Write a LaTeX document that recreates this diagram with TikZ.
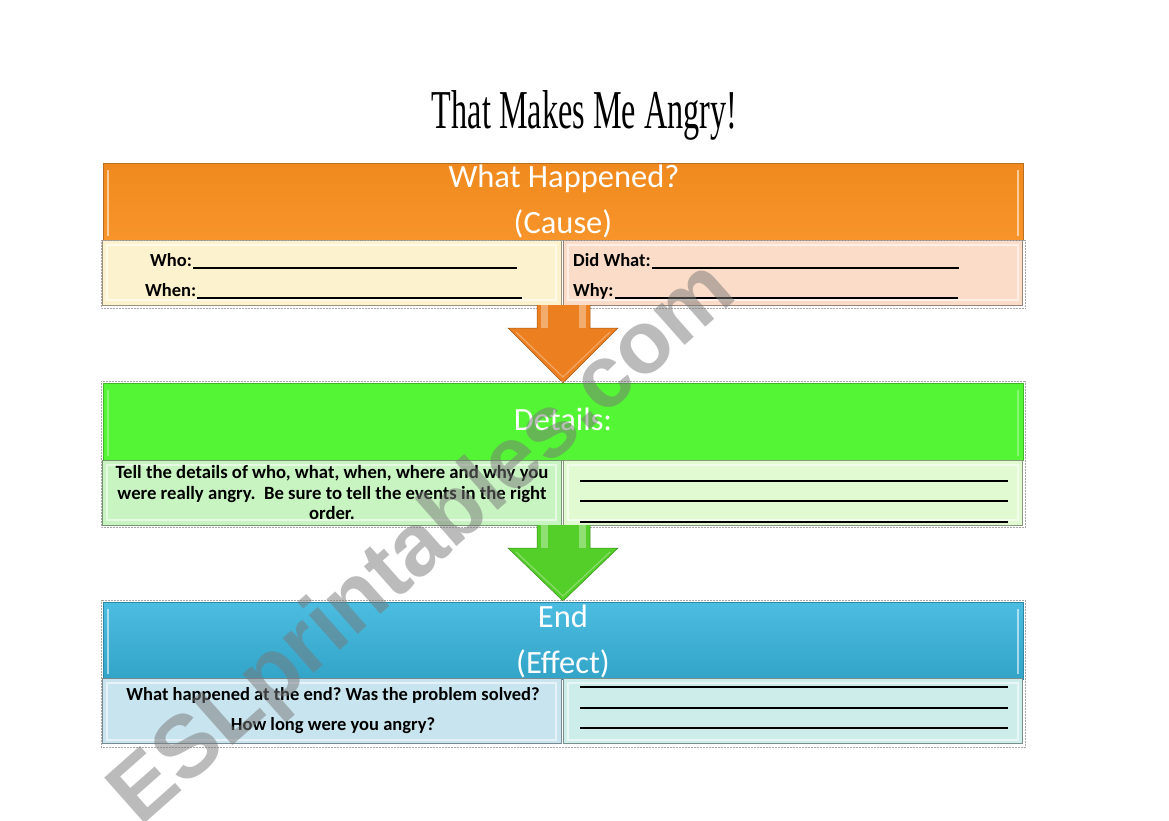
\documentclass[tikz,border=0pt]{standalone}
\usepackage{fontspec}
\setmainfont{Carlito}
\newfontfamily\titlefont{Liberation Serif}
\newfontfamily\wmfont{Liberation Sans}
\frenchspacing
\definecolor{orbar}{RGB}{247,148,42}
\definecolor{orbartop}{RGB}{240,138,30}
\definecolor{cwho}{RGB}{253,242,206}
\definecolor{cwhat}{RGB}{251,220,200}
\definecolor{grbar}{RGB}{84,245,52}
\definecolor{gleft}{RGB}{200,244,194}
\definecolor{gright}{RGB}{226,250,210}
\definecolor{blbar}{RGB}{56,182,222}
\definecolor{bleft}{RGB}{200,228,238}
\definecolor{bright}{RGB}{204,237,234}
\definecolor{orarrow}{RGB}{236,128,32}
\definecolor{grarrow}{RGB}{84,206,40}
\definecolor{wm}{RGB}{120,120,120}
\tikzset{
  bar/.style={draw=#1!75!black, line width=0.6pt, fill=#1, anchor=north west,
    minimum width=920pt, minimum height=77pt, inner sep=0pt},
  subbox/.style={draw=#1!60!black, line width=0.6pt, fill=#1, anchor=north west,
    minimum width=459pt, minimum height=65pt, inner sep=0pt},
  bartext/.style={text=white, font=\fontsize{32.5}{38}\selectfont, anchor=base, inner sep=0pt},
  lbl/.style={font=\fontsize{18.5}{22}\selectfont\bfseries, inner sep=0pt},
  uline/.style={line width=1.6pt, black},
  sel/.style={draw=gray!70, densely dotted, line width=0.5pt},
  hilite/.style={draw=white, opacity=0.55, line width=1.5pt},
}
\begin{document}
\begin{tikzpicture}[x=1pt,y=-1pt]
\useasboundingbox (0,0) rectangle (1169,821);
\fill[white] (0,0) rectangle (1169,821);

% title
\node[anchor=base, inner sep=0pt] (title) at (584.5,129)
  {\resizebox{305pt}{38pt}{\titlefont That Makes Me Angry!}};

% ---------- block 1: cause ----------
\node[bar=orbar, top color=orbartop, bottom color=orbar] (cause) at (103,163) {};
\draw[hilite] (108,170) -- (108,236) (1018,170) -- (1018,236);
\node[bartext] (t1a) at (564,187) {What Happened?};
\node[bartext] (t1b) at (563,233) {(Cause)};
\node[subbox=cwho] (who) at (102,240) {};
\node[subbox=cwhat] (what) at (563,240) {};
\draw[hilite] (107,245) rectangle (556,300);
\draw[hilite] (568,245) rectangle (1018,300);
\node[lbl, anchor=base west] (whol) at (150,266) {Who:};
\draw[uline] (whol.base east) ++(1,2) -- (517,268);
\node[lbl, anchor=base west] (whenl) at (145,296) {When:};
\draw[uline] (whenl.base east) ++(1,2) -- (522,298);
\node[lbl, anchor=base west] (didl) at (573,266) {Did What:};
\draw[uline] (didl.base east) ++(1,2) -- (959,268);
\node[lbl, anchor=base west] (whyl) at (573,296) {Why:};
\draw[uline] (whyl.base east) ++(1,2) -- (958,298);
\draw[sel] (101,240) rectangle (1025,308);

% arrow 1
\coordinate (a1) at (563,383);
\fill[orarrow] (537,305) -- (590,305) -- (590,328) -- (618,328) -- (a1) -- (508,328) -- (537,328) -- cycle;
\fill[white, opacity=0.35] (541,305) rectangle (548,328);
\fill[white, opacity=0.35] (579,305) rectangle (586,328);
\draw[orarrow!70!black, line width=0.5pt] (537,305) -- (537,328) -- (508,328) -- (a1) -- (618,328) -- (590,328) -- (590,305);
\draw[white, opacity=0.3, line width=1.2pt] (516,332) -- (563,377) -- (610,332);

% ---------- block 2: details ----------
\node[bar=grbar] (details) at (103,383) {};
\draw[hilite, opacity=0.3] (108,390) -- (108,456) (1018,390) -- (1018,456);
\node[bartext] (t2) at (563,430) {Details:};
\node[subbox=gleft] (dleft) at (102,460) {};
\node[subbox=gright] (dright) at (563,460) {};
\draw[hilite] (107,465) rectangle (556,520);
\draw[hilite] (568,465) rectangle (1018,520);
\node[lbl, align=center, font=\fontsize{18.7}{20.5}\selectfont\bfseries] (dtext) at (332,493)
  {Tell the details of who, what, when, where and why you\\
   were really angry.\ \ Be sure to tell the events in the right\\
   order.};
\draw[uline] (580,481) -- (1008,481);
\draw[uline] (580,501) -- (1008,501);
\draw[uline] (580,522) -- (1008,522);
\draw[sel] (101,381) rectangle (1025,527);

% arrow 2
\coordinate (a2) at (563,601);
\fill[grarrow] (537,525) -- (590,525) -- (590,548) -- (618,548) -- (a2) -- (508,548) -- (537,548) -- cycle;
\fill[white, opacity=0.35] (541,525) rectangle (548,548);
\fill[white, opacity=0.35] (579,525) rectangle (586,548);
\draw[grarrow!70!black, line width=0.5pt] (537,525) -- (537,548) -- (508,548) -- (a2) -- (618,548) -- (590,548) -- (590,525);
\draw[white, opacity=0.3, line width=1.2pt] (516,552) -- (563,596) -- (610,552);

% ---------- block 3: effect ----------
\node[bar=blbar, top color=blbar!90!white, bottom color=blbar!90!black] (effect) at (103,602) {};
\draw[hilite] (108,609) -- (108,674) (1018,609) -- (1018,674);
\node[bartext] (t3a) at (563,627) {End};
\node[bartext] (t3b) at (563,673) {(Effect)};
\node[subbox=bleft] (eleft) at (102,678) {};
\node[subbox=bright] (eright) at (563,678) {};
\draw[hilite] (107,683) rectangle (556,740);
\draw[hilite] (568,683) rectangle (1018,740);
\node[lbl, anchor=base] (e1) at (333,700) {What happened at the end? Was the problem solved?};
\node[lbl, anchor=base] (e2) at (333,730) {How long were you angry?};
\draw[uline] (580,687) -- (1008,687);
\draw[uline] (580,708) -- (1008,708);
\draw[uline] (580,728) -- (1008,728);
\draw[sel] (101,600) rectangle (1025,747);

% watermark
\node[rotate=41.5, text=wm, opacity=0.5, inner sep=0pt] (wmark) at (425,545)
  {\resizebox{800pt}{!}{\wmfont\bfseries ESLprintables.com}};
\end{tikzpicture}
\end{document}
